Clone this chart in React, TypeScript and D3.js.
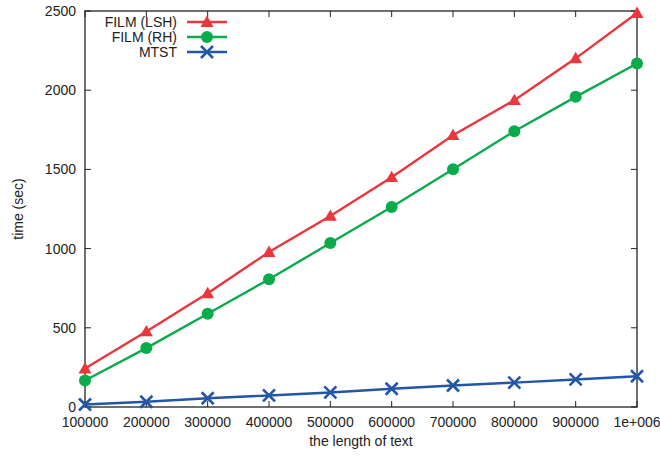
import React from 'react';
import * as d3 from 'd3';

const textLengths = [100000, 200000, 300000, 400000, 500000, 600000, 700000, 800000, 900000, 1000000];
const filmLsh = [243, 477, 718, 978, 1206, 1451, 1716, 1937, 2201, 2487];
const filmRh = [167, 372, 589, 806, 1035, 1263, 1501, 1741, 1958, 2169];
const mtst = [16, 33, 55, 73, 92, 115, 136, 154, 174, 194];
const yTicks = [0, 500, 1000, 1500, 2000, 2500];
const xTickLabels = ['100000', '200000', '300000', '400000', '500000', '600000', '700000', '800000', '900000', '1e+006'];

const seriesList = [
  { name: 'FILM (LSH)', values: filmLsh, color: '#ea363c', marker: 'triangle' },
  { name: 'FILM (RH)', values: filmRh, color: '#0aab4b', marker: 'circle' },
  { name: 'MTST', values: mtst, color: '#2456a8', marker: 'cross' },
];

const W = 660;
const H = 457;
const margin = { top: 11, right: 23, bottom: 50, left: 85 };
const font = 'Liberation Sans, Arial, Helvetica, sans-serif';
const fs = 14;

const Marker = ({ type, x, y, color }: { type: string; x: number; y: number; color: string }) => {
  if (type === 'triangle') {
    const s = 6.5;
    return <path d={`M${x},${y - s}L${x + s},${y + s * 0.75}L${x - s},${y + s * 0.75}Z`} fill={color} />;
  }
  if (type === 'circle') {
    return <circle cx={x} cy={y} r={6} fill={color} />;
  }
  const s = 6;
  return (
    <path
      d={`M${x - s},${y - s}L${x + s},${y + s}M${x - s},${y + s}L${x + s},${y - s}`}
      stroke={color}
      strokeWidth={2.6}
      fill="none"
    />
  );
};

const App = () => {
  const x = d3.scaleLinear().domain([100000, 1000000]).range([margin.left, W - margin.right]);
  const y = d3.scaleLinear().domain([0, 2500]).range([H - margin.bottom, margin.top]);
  const left = margin.left;
  const right = W - margin.right;
  const top = margin.top;
  const bottom = H - margin.bottom;
  const tick = 6;

  const line = (vals: number[]) =>
    d3.line<number>()
      .x((_, i) => x(textLengths[i]))
      .y((d) => y(d))(vals) as string;

  return (
    <svg width={W} height={H} style={{ display: 'block', position: 'absolute', left: 0, top: 0 }} fontFamily={font}>
      <rect width={W} height={H} fill="#fff" />

      {/* ticks */}
      {yTicks.map((t) => (
        <g key={'y' + t}>
          <line x1={left} x2={left + tick} y1={y(t)} y2={y(t)} stroke="#222" strokeWidth={1} />
          <line x1={right} x2={right - tick} y1={y(t)} y2={y(t)} stroke="#222" strokeWidth={1} />
          <text x={left - 9} y={y(t)} dy="0.35em" textAnchor="end" fontSize={fs} fill="#222">{t}</text>
        </g>
      ))}
      {textLengths.map((t, i) => (
        <g key={'x' + t}>
          <line x1={x(t)} x2={x(t)} y1={bottom} y2={bottom - tick} stroke="#222" strokeWidth={1} />
          <line x1={x(t)} x2={x(t)} y1={top} y2={top + tick} stroke="#222" strokeWidth={1} />
          <text x={x(t)} y={bottom + 20} textAnchor="middle" fontSize={fs} fill="#222">{xTickLabels[i]}</text>
        </g>
      ))}

      <rect x={left} y={top} width={right - left} height={bottom - top} fill="none" stroke="#222" strokeWidth={1.3} />

      {/* axis labels */}
      <text x={(left + right) / 2} y={H - 11} textAnchor="middle" fontSize={fs} fill="#222">the length of text</text>
      <text transform={`translate(23,${(top + bottom) / 2}) rotate(-90)`} textAnchor="middle" fontSize={fs} fill="#222">time (sec)</text>

      {/* series */}
      {seriesList.map((s) => (
        <g key={s.name}>
          <path d={line(s.values)} fill="none" stroke={s.color} strokeWidth={2.4} />
          {s.values.map((v, i) => (
            <Marker key={i} type={s.marker} x={x(textLengths[i])} y={y(v)} color={s.color} />
          ))}
        </g>
      ))}

      {/* legend */}
      {seriesList.map((s, i) => {
        const ly = 22 + i * 15;
        return (
          <g key={'lg' + s.name}>
            <text x={177} y={ly} dy="0.35em" textAnchor="end" fontSize={fs} fill="#222">{s.name}</text>
            <line x1={187} x2={227} y1={ly} y2={ly} stroke={s.color} strokeWidth={2.4} />
            <Marker type={s.marker} x={207} y={ly} color={s.color} />
          </g>
        );
      })}
    </svg>
  );
};

export default App;
